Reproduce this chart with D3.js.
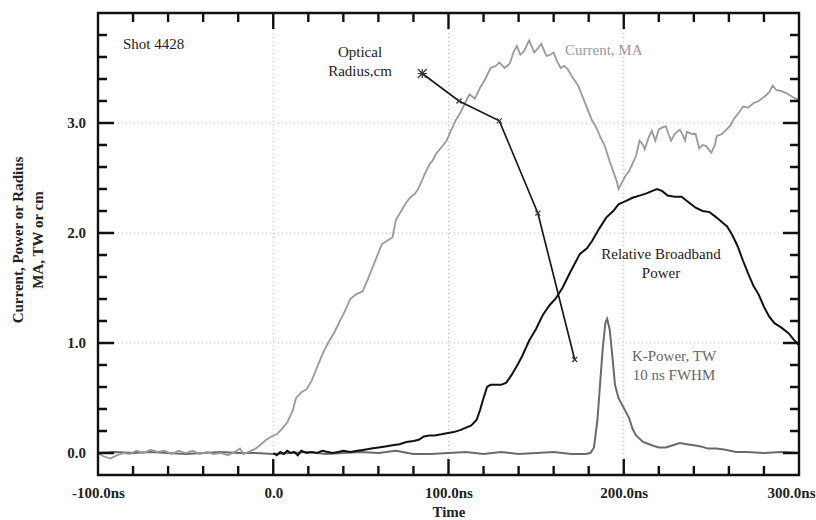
<!DOCTYPE html>
<html lang="en">
<head>
	<meta charset="UTF-8">
	<title>Shot 4428</title>
	<script src="https://cdnjs.cloudflare.com/ajax/libs/d3/7.8.5/d3.min.js"></script>
	<style>
		html,body{
			margin:0;
			padding:0;
			background:#fff;
		}
		svg{
			display:block;
			font-family:"Liberation Serif","Times New Roman",serif;
		}
		.axis text{
			font-family:"Liberation Serif","Times New Roman",serif;
			font-size:15px;
			font-weight:bold;
			fill:#222;
		}
		.grid line{
			stroke:#bbb;
			stroke-dasharray:1,3;
		}
		.note{
			font-size:15px;
		}
	</style>
</head>
<body>
	<svg id="svg" width="816" height="520"></svg>
	<script>
		// time axis (ns)
		var xTicks = [-100, 0, 100, 200, 300],
			yTicks = [0, 1, 2, 3];

		// Current, MA (light grey trace)
		var currentT = [-100,-97,-93,-89,-85,-82,-78,-74,-70,-66,-62,-58,-54,-50,-46,-42,-38,-34,-30,-26,-22,-19,-17,-14,-10,-7,-4,-1,2,5,8,11,13,16,19,22,26,29,32,35,38,40,44,47,51,54,57,59,62,65,68,70,73,76,78,81,83,86,89,91,93,96,99,101,104,107,110,112,115,118,121,124,127,129,132,135,137,139,141,143,146,149,151,153,155,156,158,160,162,164,166,168,171,174,176,179,182,184,187,189,192,194,196,197,199,201,203,205,207,209,211,212,214,216,218,220,222,224,226,227,229,232,234,235,236,239,241,243,245,247,250,252,253,256,258,261,263,266,268,271,274,277,281,283,285,287,290,293,297,300];
		var currentV = [0.0,-0.03,-0.05,-0.02,0.0,-0.01,0.02,0.0,0.03,0.01,0.02,-0.01,0.02,0.0,0.02,-0.01,0.01,-0.01,0.0,-0.02,0.01,0.04,-0.01,0.01,0.04,0.08,0.12,0.15,0.17,0.22,0.28,0.38,0.5,0.55,0.58,0.66,0.82,0.93,1.02,1.1,1.2,1.26,1.4,1.44,1.47,1.58,1.7,1.78,1.9,1.93,1.96,2.12,2.2,2.28,2.32,2.36,2.41,2.52,2.62,2.66,2.72,2.78,2.84,2.92,3.02,3.1,3.2,3.26,3.22,3.32,3.4,3.5,3.52,3.55,3.5,3.54,3.64,3.7,3.62,3.65,3.75,3.64,3.68,3.72,3.64,3.61,3.62,3.64,3.56,3.5,3.52,3.49,3.41,3.34,3.26,3.14,3.02,2.97,2.86,2.8,2.65,2.56,2.47,2.4,2.46,2.52,2.56,2.63,2.7,2.84,2.8,2.76,2.86,2.93,2.84,2.94,2.96,2.97,2.88,2.84,2.9,2.94,2.88,2.84,2.92,2.9,2.9,2.77,2.8,2.79,2.73,2.8,2.88,2.9,2.93,2.98,3.04,3.1,3.15,3.14,3.18,3.2,3.25,3.28,3.34,3.3,3.29,3.27,3.23,3.21];

		// Relative Broadband Power (black trace)
		var broadT = [0,2,4,6,8,10,12,14,16,19,22,25,28,31,34,37,40,44,48,52,56,60,64,68,72,76,80,83,86,89,92,96,99,103,107,110,113,116,118,120,122,124,127,130,133,136,139,142,146,150,154,158,161,165,169,172,175,179,182,186,190,194,197,201,205,209,213,216,219,222,225,229,233,237,241,245,249,253,256,259,262,265,268,271,274,277,280,283,286,290,294,297,300];
		var broadV = [0.0,-0.02,0.01,-0.01,0.02,0.0,0.01,-0.02,0.02,0.0,0.01,0.0,0.02,0.01,0.0,0.01,0.02,0.01,0.02,0.03,0.04,0.05,0.06,0.07,0.08,0.1,0.11,0.12,0.15,0.16,0.16,0.17,0.18,0.19,0.21,0.23,0.25,0.3,0.39,0.5,0.6,0.62,0.62,0.62,0.64,0.71,0.79,0.88,1.02,1.13,1.26,1.35,1.4,1.5,1.63,1.72,1.81,1.86,1.93,2.04,2.14,2.2,2.26,2.29,2.32,2.34,2.36,2.38,2.4,2.38,2.34,2.33,2.33,2.28,2.23,2.2,2.19,2.14,2.1,2.06,1.98,1.88,1.75,1.63,1.52,1.44,1.33,1.24,1.18,1.14,1.09,1.03,0.98];

		// K-Power, TW (dark grey trace)
		var kT = [-100,-90,-80,-70,-60,-50,-40,-30,-20,-10,0,10,20,30,40,50,60,70,80,90,100,110,120,130,140,150,160,170,178,181,183,185,186.5,188,189.5,190.5,192,193.5,195,197,200,203,205,207,211,216,220,224,228,232,236,240,244,248,253,258,264,270,280,290,300];
		var kV = [0.0,0.01,0.0,0.01,0.0,-0.01,0.0,0.01,0.0,0.0,-0.01,0.0,0.01,-0.01,0.0,0.01,0.0,0.02,-0.01,-0.01,0.0,0.01,-0.01,0.01,-0.01,0.0,0.01,-0.01,-0.01,0.0,0.05,0.3,0.63,0.95,1.18,1.22,1.12,0.88,0.62,0.5,0.41,0.32,0.22,0.16,0.1,0.07,0.05,0.05,0.07,0.09,0.08,0.07,0.06,0.04,0.04,0.03,0.01,0.01,0.0,0.01,0.0];

		// Optical Radius, cm (measured points)
		var radiusT = [85, 106, 129, 151, 172],
			radiusV = [3.45, 3.2, 3.02, 2.18, 0.85];

		var svg = d3.select("svg"),
			pLeft = 98, pRight = 799, pTop = 13, pBottom = 475;

		var x = d3.scaleLinear().domain([-100, 300]).range([pLeft, pRight]),
			y = d3.scaleLinear().domain([-0.2, 4.0]).range([pBottom, pTop]);

		var zip = (a, b) => a.map((d, i) => [d, b[i]]);
		var line = d3.line().x(d => x(d[0])).y(d => y(d[1]));

		// grid
		var grid = svg.append("g").attr("class", "grid");
		grid.selectAll(".gx").data([0, 100, 200]).enter().append("line")
			.attr("x1", d => x(d)).attr("x2", d => x(d))
			.attr("y1", pTop).attr("y2", pBottom);
		grid.selectAll(".gy").data([1, 2, 3]).enter().append("line")
			.attr("x1", pLeft).attr("x2", pRight)
			.attr("y1", d => y(d)).attr("y2", d => y(d));

		// traces
		svg.append("path").datum(zip(kT, kV)).attr("d", line)
			.attr("fill", "none").attr("stroke", "#6a6a6a").attr("stroke-width", 2);
		svg.append("path").datum(zip(currentT, currentV)).attr("d", line)
			.attr("fill", "none").attr("stroke", "#9a9a9a").attr("stroke-width", 1.8);
		svg.append("path").datum(zip(broadT, broadV)).attr("d", line)
			.attr("fill", "none").attr("stroke", "#111").attr("stroke-width", 2);
		svg.append("path").datum(zip(radiusT, radiusV)).attr("d", line)
			.attr("fill", "none").attr("stroke", "#1a1a1a").attr("stroke-width", 1.7);

		// radius markers
		var rp = zip(radiusT, radiusV);
		svg.selectAll(".mk").data(rp).enter().append("path")
			.attr("transform", d => `translate(${x(d[0])},${y(d[1])})`)
			.attr("d", (d, i) => {
				var s = i === 0 ? 4.5 : 2.5;
				var p = `M${-s},${-s}L${s},${s}M${-s},${s}L${s},${-s}`;
				if (i === 0) p += `M${-s},0L${s},0M0,${-s}L0,${s}`;
				return p;
			})
			.attr("stroke", "#333").attr("stroke-width", 1.2).attr("fill", "none");

		// frame and inward ticks as one path built from the scales
		var minorX = d3.range(-100, 301, 20),
			minorY = d3.range(-0.2, 4.01, 0.2).map(d => +d.toFixed(1));
		var fp = d3.path();
		fp.moveTo(pLeft, pTop); fp.lineTo(pRight, pTop); fp.lineTo(pRight, pBottom);
		fp.lineTo(pLeft, pBottom); fp.closePath();
		minorX.forEach(d => {
			var len = xTicks.includes(d) ? 16 : 9;
			fp.moveTo(x(d), pBottom); fp.lineTo(x(d), pBottom - len);
			fp.moveTo(x(d), pTop); fp.lineTo(x(d), pTop + len);
		});
		minorY.forEach(d => {
			var len = yTicks.includes(d) ? 16 : 9;
			fp.moveTo(pLeft, y(d)); fp.lineTo(pLeft + len, y(d));
			fp.moveTo(pRight, y(d)); fp.lineTo(pRight - len, y(d));
		});
		svg.append("path").attr("d", fp.toString())
			.attr("fill", "none").attr("stroke", "#111").attr("stroke-width", 2.4);

		// tick labels
		var xb = svg.append("g").attr("class", "axis").attr("transform", `translate(0,${pBottom})`)
			.call(d3.axisBottom(x).tickValues(xTicks).tickSize(0).tickPadding(12)
				.tickFormat(d => d === 0 ? "0.0" : d.toFixed(1) + "ns"));
		xb.select(".domain").remove();
		xb.selectAll("text").filter(d => d === 300).attr("text-anchor", "end").attr("x", 16);
		var yl = svg.append("g").attr("class", "axis").attr("transform", `translate(${pLeft},0)`)
			.call(d3.axisLeft(y).tickValues(yTicks).tickSize(0).tickPadding(12)
				.tickFormat(d => d.toFixed(1)));
		yl.select(".domain").remove();

		// axis titles
		svg.append("text").attr("transform", "translate(23,240) rotate(-90)")
			.attr("text-anchor", "middle").attr("font-size", 15).attr("font-weight", "bold").attr("fill", "#222")
			.text("Current, Power or Radius");
		svg.append("text").attr("transform", "translate(43,240) rotate(-90)")
			.attr("text-anchor", "middle").attr("font-size", 15).attr("font-weight", "bold").attr("fill", "#222")
			.text("MA, TW or cm");
		svg.append("text").attr("x", 449).attr("y", 517)
			.attr("text-anchor", "middle").attr("font-size", 15).attr("font-weight", "bold").attr("fill", "#222")
			.text("Time");

		// annotations
		function note(tx, ty, lines, color, anchor){
			var t = svg.append("text").attr("class", "note").attr("fill", color)
				.attr("text-anchor", anchor || "middle");
			lines.forEach((s, i) => {
				t.append("tspan").attr("x", tx).attr("y", ty + i * 19).text(s);
			});
		}
		note(123, 49, ["Shot 4428"], "#222", "start");
		note(360, 57, ["Optical", "Radius,cm"], "#222");
		note(565, 55, ["Current, MA"], "#999", "start");
		note(661, 259, ["Relative Broadband", "Power"], "#222");
		note(674, 361, ["K-Power, TW", "10 ns FWHM"], "#666");
	</script>
</body>
</html>
